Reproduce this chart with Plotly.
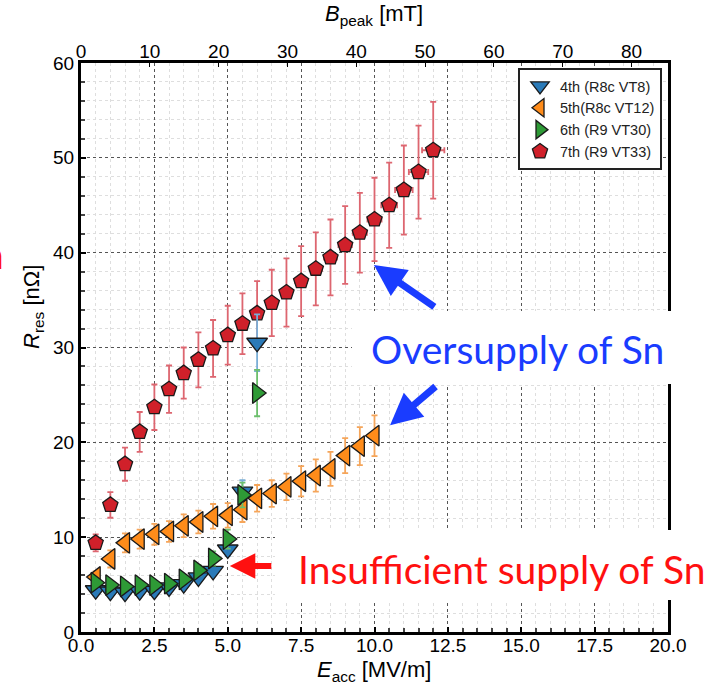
import plotly.graph_objects as go

# ---------------- data ----------------
# 7th (R9 VT33) - red pentagons
e_red = [0.5, 1.0, 1.5, 2.0, 2.5, 3.0, 3.5, 4.0, 4.5, 5.0, 5.5, 6.0,
         6.5, 7.0, 7.5, 8.0, 8.5, 9.0, 9.5, 10.0, 10.5, 11.0, 11.5, 12.0]
r_red = [9.4, 13.4, 17.7, 21.1, 23.7, 25.6, 27.3, 28.7, 29.9, 31.3, 32.5, 33.6,
         34.7, 35.8, 37.0, 38.3, 39.5, 40.8, 42.1, 43.5, 45.0, 46.6, 48.5, 50.8]
err_red = [0.9, 1.35, 1.75, 2.1, 2.4, 2.5, 2.7, 2.9, 3.0, 3.1, 3.2, 3.4,
           3.5, 3.6, 3.7, 3.85, 4.0, 4.1, 4.2, 4.4, 4.5, 4.7, 4.9, 5.1]
errx_red = [0.02, 0.03, 0.05, 0.06, 0.08, 0.09, 0.1, 0.12, 0.13, 0.15, 0.16, 0.17,
            0.18, 0.19, 0.2, 0.21, 0.22, 0.23, 0.24, 0.24, 0.27, 0.3, 0.33, 0.38]

# 5th (R8c VT12) - orange left triangles
e_orange = [0.5, 1.0, 1.5, 2.0, 2.5, 3.0, 3.5, 4.0, 4.5, 5.0, 5.5, 6.0,
            6.5, 7.0, 7.5, 8.0, 8.5, 9.0, 9.5, 10.0]
r_orange = [5.8, 7.7, 9.4, 9.8, 10.3, 10.6, 11.2, 11.6, 12.2, 12.3, 12.9, 14.1,
            14.6, 15.3, 15.9, 16.5, 17.2, 18.6, 19.6, 20.7]
err_orange = [0.6, 0.9, 1.0, 1.0, 1.1, 1.1, 1.2, 1.2, 1.3, 1.3, 1.3, 1.4,
              1.4, 1.4, 1.6, 1.7, 1.8, 1.85, 2.0, 2.15]

# 4th (R8c VT8) - blue down triangles
e_blue = [0.5, 1.0, 1.5, 2.0, 2.5, 3.0, 3.5, 4.0, 4.5, 5.0, 5.5, 6.0]
r_blue = [4.4, 4.25, 4.15, 4.3, 4.35, 4.7, 5.05, 5.75, 6.45, 8.7, 14.8, 30.5]
err_blue = [0.3, 0.3, 0.3, 0.3, 0.3, 0.35, 0.4, 0.45, 0.5, 0.7, 1.2, 3.0]

# 6th (R9 VT30) - green right triangles
e_green = [0.5, 1.0, 1.5, 2.0, 2.5, 3.0, 3.5, 4.0, 4.5, 5.0, 5.5, 6.0]
r_green = [5.2, 4.95, 4.8, 4.95, 4.95, 5.1, 5.55, 6.5, 7.75, 9.8, 14.45, 25.2]
err_green = [0.4, 0.4, 0.4, 0.4, 0.4, 0.4, 0.45, 0.55, 0.75, 1.0, 1.3, 2.45]

x_ticks = [0.0, 2.5, 5.0, 7.5, 10.0, 12.5, 15.0, 17.5, 20.0]
y_ticks = [0, 10, 20, 30, 40, 50, 60]
b_ticks = [0, 10, 20, 30, 40, 50, 60, 70, 80]

# ---------------- layout helpers ----------------
W, H = 717, 687
L, R, T, B = 81, 49, 63, 55
PW, PH = W - L - R, H - T - B


def px(xp):
    return (xp - L) / PW


def py(yp):
    return (H - B - yp) / PH


SANS = "Liberation Sans"
TICKFONT = dict(family=SANS, size=19, color="black")
BIGFONT = "Lato"

fig = go.Figure()

fig.add_trace(go.Scatter(
    x=e_red, y=r_red, mode="markers", name="7th (R9 VT33)",
    marker=dict(symbol="pentagon", size=16, color="#d0202a",
                line=dict(color="#1a1a1a", width=1.3)),
    error_y=dict(type="data", array=err_red, color="#dd6670", thickness=1.8, width=3),
    error_x=dict(type="data", array=errx_red, color="#dd6670", thickness=1.8, width=3),
    legendrank=4))

fig.add_trace(go.Scatter(
    x=e_blue, y=r_blue, mode="markers", name="4th (R8c VT8)",
    marker=dict(symbol="triangle-down", size=18, color="#2a7ab8",
                line=dict(color="#1a1a1a", width=1.3)),
    error_y=dict(type="data", array=err_blue, color="#7aaed6", thickness=1.8, width=3),
    legendrank=1))

fig.add_trace(go.Scatter(
    x=e_orange, y=r_orange, mode="markers", name="5th(R8c VT12)",
    marker=dict(symbol="triangle-left", size=18, color="#ff8c1a",
                line=dict(color="#1a1a1a", width=1.3)),
    error_y=dict(type="data", array=err_orange, color="#f5a55a", thickness=1.8, width=3),
    legendrank=2))

fig.add_trace(go.Scatter(
    x=e_green, y=r_green, mode="markers", name="6th (R9 VT30)",
    marker=dict(symbol="triangle-right", size=18, color="#2e9a36",
                line=dict(color="#1a1a1a", width=1.3)),
    error_y=dict(type="data", array=err_green, color="#6cbf6c", thickness=1.8, width=3),
    legendrank=3))

# dummy trace so top axis is drawn
fig.add_trace(go.Scatter(x=[None], y=[None], xaxis="x2", showlegend=False,
                         hoverinfo="skip"))

fig.update_layout(
    width=W, height=H,
    margin=dict(l=L, r=R, t=T, b=B),
    paper_bgcolor="white", plot_bgcolor="white",
    showlegend=True,
    legend=dict(x=px(518), y=py(68), xanchor="left", yanchor="top",
                bgcolor="white", bordercolor="#222", borderwidth=2,
                font=dict(family=SANS, size=14.5, color="#222"),
                traceorder="normal"),
    xaxis=dict(range=[0, 20], tickvals=x_ticks, ticktext=[f"{v:.1f}" for v in x_ticks],
               showline=True, linecolor="black", linewidth=3, mirror=True,
               ticks="inside", ticklen=5, tickcolor="black", tickwidth=1.5,
               tickfont=TICKFONT, ticklabelstandoff=-6,
               showgrid=True, gridcolor="#555", griddash="dot", gridwidth=1.3,
               zeroline=False,
               minor=dict(dtick=0.5, showgrid=True, gridcolor="#dedede", gridwidth=1,
                          ticks="inside", ticklen=4, tickcolor="#444")),
    xaxis2=dict(range=[0, 85.3], overlaying="x", side="top", tickvals=b_ticks,
                ticks="inside", ticklen=4, tickcolor="black", tickfont=TICKFONT,
                showgrid=False, zeroline=False, showline=False),
    yaxis=dict(range=[0, 60], tickvals=y_ticks,
               showline=True, linecolor="black", linewidth=3, mirror=True,
               ticks="inside", ticklen=5, tickcolor="black", tickwidth=1.5,
               tickfont=TICKFONT,
               showgrid=True, gridcolor="#555", griddash="dot", gridwidth=1.3,
               zeroline=False,
               minor=dict(dtick=2, showgrid=True, gridcolor="#dedede", gridwidth=1,
                          ticks="inside", ticklen=4, tickcolor="#444")),
)

# white boxes behind the callout texts
fig.add_shape(type="rect", xref="paper", yref="paper",
              x0=px(352), x1=px(717), y0=py(384), y1=py(311),
              fillcolor="white", line=dict(width=0), layer="above")
fig.add_shape(type="rect", xref="paper", yref="paper",
              x0=px(275), x1=px(717), y0=py(600), y1=py(530),
              fillcolor="white", line=dict(width=0), layer="above")

ann = []
# axis titles
ann.append(dict(text="<i>B</i><sub>peak</sub> [mT]", xref="paper", yref="paper",
                x=px(374), y=py(15), xanchor="center", yanchor="middle", showarrow=False,
                font=dict(family=SANS, size=22, color="black")))
ann.append(dict(text="<i>E</i><sub>acc</sub> [MV/m]", xref="paper", yref="paper",
                x=px(374), y=py(671), xanchor="center", yanchor="middle", showarrow=False,
                font=dict(family=SANS, size=22, color="black")))
ann.append(dict(text="<i>R</i><sub>res</sub> [nΩ]", xref="paper", yref="paper",
                x=px(33), y=py(307), xanchor="center", yanchor="middle", showarrow=False,
                textangle=-90,
                font=dict(family=SANS, size=22, color="black")))
# callout texts
ann.append(dict(text="Oversupply of Sn", xref="paper", yref="paper",
                x=px(517), y=py(349), xanchor="center", yanchor="middle", showarrow=False,
                font=dict(family=BIGFONT, size=39, color="#1a3cff")))
ann.append(dict(text="Insufficient supply of Sn", xref="paper", yref="paper",
                x=px(501), y=py(569), xanchor="center", yanchor="middle", showarrow=False,
                font=dict(family=BIGFONT, size=39, color="#ff1010")))
ann.append(dict(text="n", xref="paper", yref="paper",
                x=px(6), y=py(254), xanchor="right", yanchor="middle", showarrow=False,
                font=dict(family=BIGFONT, size=39, color="#ff1010")))
# arrows (tip in data coords, tail offset in px)
ann.append(dict(text="", x=9.98, y=38.7, xref="x", yref="y", showarrow=True,
                ax=62, ay=43, arrowhead=2, arrowsize=0.9, arrowwidth=7, arrowcolor="#1a3cff"))
ann.append(dict(text="", x=10.53, y=21.8, xref="x", yref="y", showarrow=True,
                ax=47, ay=-40, arrowhead=2, arrowsize=0.9, arrowwidth=7, arrowcolor="#1a3cff"))
ann.append(dict(text="", x=5.07, y=6.96, xref="x", yref="y", showarrow=True,
                ax=43, ay=0, arrowhead=2, arrowsize=0.85, arrowwidth=6, arrowcolor="#ff1010"))
fig.update_layout(annotations=ann)

fig.write_html("out.html")
